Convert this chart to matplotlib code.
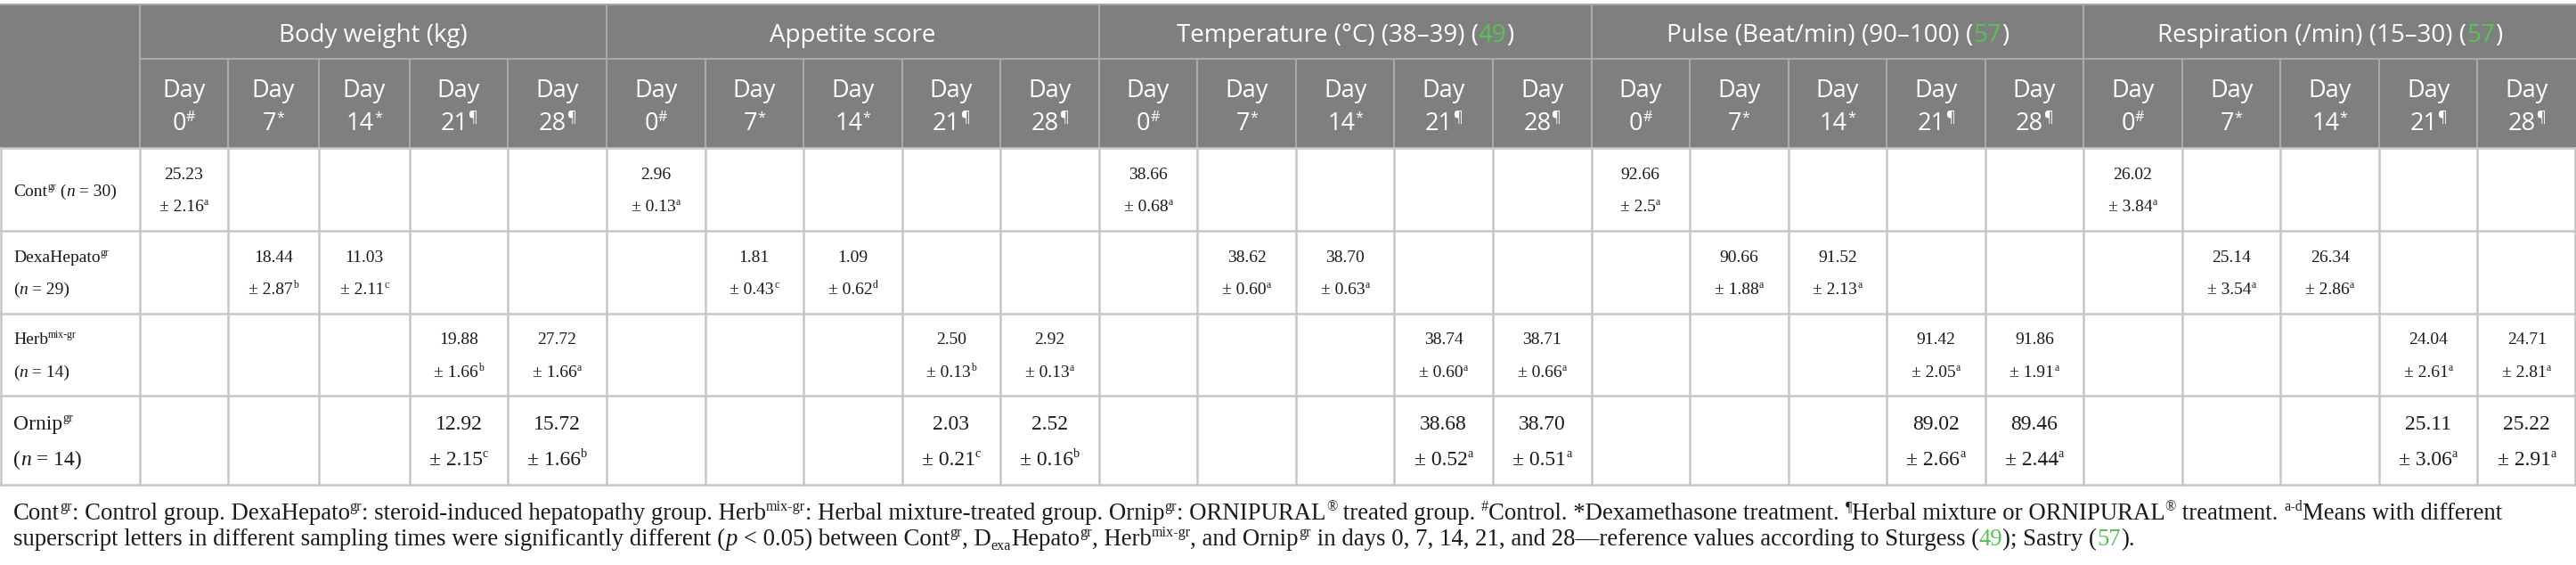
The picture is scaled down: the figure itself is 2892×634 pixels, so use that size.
import matplotlib
matplotlib.use("Agg")
import matplotlib.pyplot as plt
from matplotlib.patches import Rectangle

W, H = 2892, 634

# ---- table content ----
param_titles = ["Body weight (kg)", "Appetite score", "Temperature (°C) (38–39) (",
                "Pulse (Beat/min) (90–100) (", "Respiration (/min) (15–30) ("]
param_refs = ["", "", "49", "57", "57"]
day_labels = ["0", "7", "14", "21", "28"]
day_marks = ["#", "*", "*", "¶", "¶"]

# order of parameters: body weight, appetite, temperature, pulse, respiration
cont_mean = [["25.23"], ["2.96"], ["38.66"], ["92.66"], ["26.02"]]
cont_sd = [["2.16"], ["0.13"], ["0.68"], ["2.5"], ["3.84"]]
cont_sig = [["a"], ["a"], ["a"], ["a"], ["a"]]

dexa_mean = [["18.44", "11.03"], ["1.81", "1.09"], ["38.62", "38.70"], ["90.66", "91.52"], ["25.14", "26.34"]]
dexa_sd = [["2.87", "2.11"], ["0.43", "0.62"], ["0.60", "0.63"], ["1.88", "2.13"], ["3.54", "2.86"]]
dexa_sig = [["b", "c"], ["c", "d"], ["a", "a"], ["a", "a"], ["a", "a"]]

herb_mean = [["19.88", "27.72"], ["2.50", "2.92"], ["38.74", "38.71"], ["91.42", "91.86"], ["24.04", "24.71"]]
herb_sd = [["1.66", "1.66"], ["0.13", "0.13"], ["0.60", "0.66"], ["2.05", "1.91"], ["2.61", "2.81"]]
herb_sig = [["b", "a"], ["b", "a"], ["a", "a"], ["a", "a"], ["a", "a"]]

ornip_mean = [["12.92", "15.72"], ["2.03", "2.52"], ["38.68", "38.70"], ["89.02", "89.46"], ["25.11", "25.22"]]
ornip_sd = [["2.15", "1.66"], ["0.21", "0.16"], ["0.52", "0.51"], ["2.66", "2.44"], ["3.06", "2.91"]]
ornip_sig = [["c", "b"], ["c", "b"], ["a", "a"], ["a", "a"], ["a", "a"]]

row_days = [[0], [1, 2], [3, 4], [3, 4]]

# ---- style / layout ----
HEAD_BG = "#7f7f7f"
HEAD_LINE = "#a9a9a9"
GRID = "#c6c6c6"
GREEN = "#56c356"
INK = "#1a1a1a"
SANS = "Open Sans"
SERIF = "Liberation Serif"

col_edges = [0, 157, 256, 358, 460, 570] + [681 + i * 110.55 for i in range(21)]
group_edges = [157, 681, 681 + 5 * 110.55, 681 + 10 * 110.55, 681 + 15 * 110.55, W]
row_edges = [166, 259, 352, 444, 544]

fig = plt.figure(figsize=(W / 100, H / 100), dpi=100)
ax = fig.add_axes([0, 0, 1, 1])
ax.set_xlim(0, W)
ax.set_ylim(H, 0)
ax.axis("off")
renderer = fig.canvas.get_renderer()

_bar = {}


def text_w(s, size, family, style):
    key = (size, family, style)
    if key not in _bar:
        t = ax.text(0, 0, "||", fontsize=size, family=family, style=style)
        _bar[key] = t.get_window_extent(renderer).width
        t.remove()
    t = ax.text(0, 0, "|" + s + "|", fontsize=size, family=family, style=style)
    w = t.get_window_extent(renderer).width
    t.remove()
    return w - _bar[key]


def draw_runs(x, y, runs, size, family, color, ha="center"):
    px = size * 100 / 72
    pieces = []
    for r in runs:
        txt, kind = r[0], r[1]
        c = r[2] if len(r) > 2 else color
        s, dy, st = size, 0, "normal"
        if kind == "sup":
            s, dy = size * 0.6, -px * 0.36
        elif kind == "sub":
            s, dy = size * 0.6, px * 0.18
        elif kind == "i":
            st = "italic"
        pieces.append((txt, s, dy, st, c, text_w(txt, s, family, st)))
    total = sum(p[5] for p in pieces)
    cx = x - total / 2 if ha == "center" else x
    for txt, s, dy, st, c, w in pieces:
        ax.text(cx, y + dy, txt, fontsize=s, family=family, style=st, color=c,
                ha="left", va="baseline")
        cx += w


# ---- header ----
ax.add_patch(Rectangle((0, 5), W, row_edges[0] - 5, color=HEAD_BG, lw=0))
ax.plot([0, W], [5, 5], color=HEAD_LINE, lw=1.5)
ax.plot([157, W], [66, 66], color=HEAD_LINE, lw=1.5)
for x in group_edges[:-1]:
    ax.plot([x, x], [5, 166], color=HEAD_LINE, lw=1.5)
for x in col_edges[2:-1]:
    ax.plot([x, x], [66, 166], color=HEAD_LINE, lw=1.5)

for g in range(5):
    runs = [(param_titles[g], "n")]
    if param_refs[g]:
        runs += [(param_refs[g], "n", GREEN), (")", "n")]
    draw_runs((group_edges[g] + group_edges[g + 1]) / 2, 47, runs, 20, SANS, "white")
    for d in range(5):
        c0, c1 = col_edges[1 + g * 5 + d], col_edges[2 + g * 5 + d]
        xc = (c0 + c1) / 2
        draw_runs(xc, 109, [("Day", "n")], 19.5, SANS, "white")
        draw_runs(xc, 146, [(day_labels[d], "n"), (day_marks[d], "sup")], 19.5, SANS, "white")

# ---- body grid ----
for y in row_edges:
    ax.plot([0, W], [y, y], color=GRID, lw=1.8)
for x in col_edges:
    xx = min(max(x, 1), W - 1)
    ax.plot([xx, xx], [row_edges[0], row_edges[-1]], color=GRID, lw=1.8)

# ---- body rows ----
row_labels = [
    [[("Cont", "n"), ("gr", "sup"), (" (", "n"), ("n", "i"), (" = 30)", "n")]],
    [[("DexaHepato", "n"), ("gr", "sup")], [("(", "n"), ("n", "i"), (" = 29)", "n")]],
    [[("Herb", "n"), ("mix-gr", "sup")], [("(", "n"), ("n", "i"), (" = 14)", "n")]],
    [[("Ornip", "n"), ("gr", "sup")], [("(", "n"), ("n", "i"), (" = 14)", "n")]],
]
row_means = [cont_mean, dexa_mean, herb_mean, ornip_mean]
row_sds = [cont_sd, dexa_sd, herb_sd, ornip_sd]
row_sigs = [cont_sig, dexa_sig, herb_sig, ornip_sig]
row_size = [14, 14, 14, 17]
row_gap = [36.5, 36.5, 36.5, 40]

for r in range(4):
    top, bot = row_edges[r], row_edges[r + 1]
    mid = (top + bot) / 2
    size = row_size[r]
    cap = 0.66 * size * 100 / 72
    b1 = mid - row_gap[r] / 2 + cap / 2
    b2 = b1 + row_gap[r]
    labels = row_labels[r]
    if len(labels) == 1:
        draw_runs(15, mid + cap / 2 + 1, labels[0], size, SERIF, INK, ha="left")
    else:
        draw_runs(15, b1, labels[0], size, SERIF, INK, ha="left")
        draw_runs(15, b2, labels[1], size, SERIF, INK, ha="left")
    for p in range(5):
        for k, d in enumerate(row_days[r]):
            ci = 1 + p * 5 + d
            xc = (col_edges[ci] + col_edges[ci + 1]) / 2
            draw_runs(xc, b1, [(row_means[r][p][k], "n")], size, SERIF, INK)
            draw_runs(xc, b2, [("± " + row_sds[r][p][k], "n"), (row_sigs[r][p][k], "sup")],
                      size, SERIF, INK)

# ---- footnote ----
note1 = [("Cont", "n"), ("gr", "sup"), (": Control group. DexaHepato", "n"), ("gr", "sup"),
         (": steroid-induced hepatopathy group. Herb", "n"), ("mix-gr", "sup"),
         (": Herbal mixture-treated group. Ornip", "n"), ("gr", "sup"), (": ORNIPURAL", "n"),
         ("®", "sup"), (" treated group. ", "n"), ("#", "sup"),
         ("Control. *Dexamethasone treatment. ", "n"), ("¶", "sup"),
         ("Herbal mixture or ORNIPURAL", "n"), ("®", "sup"), (" treatment. ", "n"),
         ("a-d", "sup"), ("Means with different", "n")]
note2 = [("superscript letters in different sampling times were significantly different (", "n"),
         ("p", "i"), (" < 0.05) between Cont", "n"), ("gr", "sup"), (", D", "n"), ("exa", "sub"),
         ("Hepato", "n"), ("gr", "sup"), (", Herb", "n"), ("mix-gr", "sup"), (", and Ornip", "n"),
         ("gr", "sup"),
         (" in days 0, 7, 14, 21, and 28—reference values according to Sturgess (", "n"),
         ("49", "n", GREEN), ("); Sastry (", "n"), ("57", "n", GREEN), (").", "n")]
draw_runs(15, 583, note1, 19.3, SERIF, INK, ha="left")
draw_runs(15, 612, note2, 19.3, SERIF, INK, ha="left")

fig.savefig("out.png", dpi=100, facecolor="white")
